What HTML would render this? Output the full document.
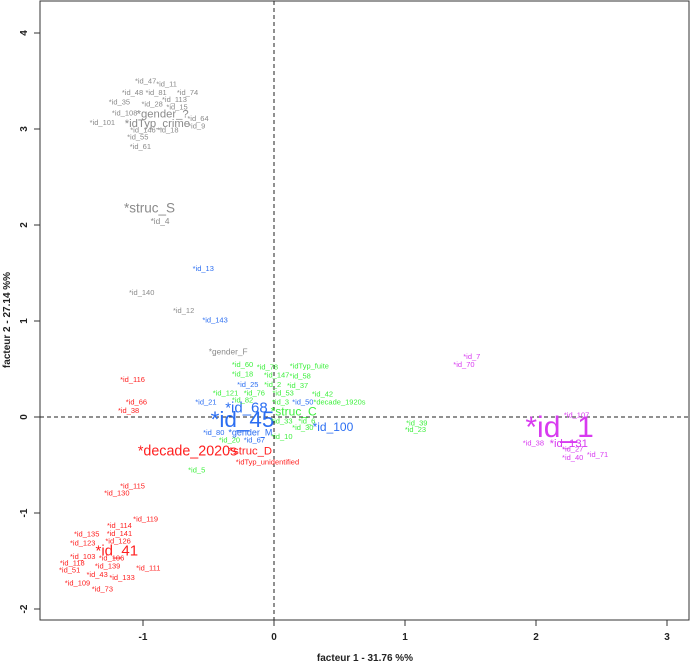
<!DOCTYPE html>
<html><head><meta charset="utf-8">
<style>
html,body{margin:0;padding:0;background:#fff;}
svg{display:block;font-family:"Liberation Sans",sans-serif;}
</style></head>
<body>
<svg id="chart" width="690" height="663" viewBox="0 0 690 663" xmlns="http://www.w3.org/2000/svg">
<rect x="40" y="1" width="649" height="619" fill="none" stroke="#333" stroke-width="1"/>
<g id="axes"></g>
<g id="marks"></g>
<text x="365" y="661" text-anchor="middle" font-size="10" font-weight="bold" fill="#222">facteur  1  - 31.76 %%</text>
<text transform="translate(10,320) rotate(-90)" text-anchor="middle" font-size="10" font-weight="bold" fill="#222">facteur  2  - 27.14 %%</text>
</svg>
<script>
const labels=["id_47","id_11","id_48","id_81","id_74","id_35","id_28","id_113","id_15","id_108","gender_?","id_64","id_101","idTyp_crime","id_9","id_146","id_18","id_55","id_61","struc_S","id_4","id_140","id_12","gender_F",
"id_13","id_143","id_25","id_21","id_50","id_68","id_45","id_100","id_80","gender_M","id_67",
"id_60","id_78","idTyp_fuite","id_18","id_147","id_58","id_2","id_37","id_121","id_76","id_53","id_42","id_82","id_3","decade_1920s","struc_C","id_33","id_6","id_30","id_10","id_20","id_5","id_39","id_23",
"id_116","id_66","id_38","decade_2020s","struc_D","idTyp_unidentified","id_115","id_130","id_119","id_114","id_135","id_141","id_123","id_126","id_41","id_103","id_106","id_118","id_139","id_111","id_51","id_43","id_133","id_109","id_73",
"id_7","id_70","id_107","id_1","id_38","id_131","id_27","id_40","id_71"];
const xs=[-0.98,-0.82,-1.08,-0.90,-0.66,-1.18,-0.93,-0.76,-0.74,-1.14,-0.85,-0.58,-1.31,-0.89,-0.59,-1.00,-0.81,-1.04,-1.02,-0.95,-0.87,-1.01,-0.69,-0.35,
-0.54,-0.45,-0.20,-0.52,0.22,-0.21,-0.24,0.45,-0.46,-0.18,-0.15,
-0.24,-0.05,0.27,-0.24,0.02,0.20,-0.01,0.18,-0.37,-0.15,0.07,0.37,-0.24,0.05,0.50,0.15,0.06,0.25,0.22,0.06,-0.34,-0.59,1.09,1.08,
-1.08,-1.05,-1.11,-0.66,-0.18,-0.05,-1.08,-1.20,-0.98,-1.18,-1.43,-1.18,-1.46,-1.19,-1.20,-1.46,-1.24,-1.54,-1.27,-0.96,-1.56,-1.35,-1.16,-1.50,-1.31,
1.51,1.45,2.31,2.18,1.98,2.25,2.28,2.28,2.47];
const ys=[3.50,3.47,3.38,3.38,3.38,3.28,3.26,3.31,3.23,3.17,3.16,3.11,3.07,3.06,3.03,2.99,2.99,2.92,2.82,2.18,2.04,1.30,1.11,0.68,
1.55,1.01,0.34,0.16,0.16,0.10,-0.02,-0.10,-0.16,-0.16,-0.24,
0.55,0.52,0.53,0.45,0.44,0.43,0.34,0.33,0.25,0.25,0.25,0.24,0.18,0.16,0.16,0.06,-0.04,-0.04,-0.11,-0.20,-0.24,-0.55,-0.06,-0.13,
0.39,0.16,0.07,-0.35,-0.35,-0.47,-0.72,-0.79,-1.06,-1.13,-1.22,-1.21,-1.31,-1.29,-1.39,-1.45,-1.47,-1.52,-1.55,-1.57,-1.59,-1.64,-1.67,-1.73,-1.79,
0.63,0.55,0.02,-0.10,-0.27,-0.27,-0.33,-0.42,-0.39];
const groups=["g","g","g","g","g","g","g","g","g","g","g","g","g","g","g","g","g","g","g","g","g","g","g","g",
"b","b","b","b","b","b","b","b","b","b","b",
"v","v","v","v","v","v","v","v","v","v","v","v","v","v","v","v","v","v","v","v","v","v","v","v",
"r","r","r","r","r","r","r","r","r","r","r","r","r","r","r","r","r","r","r","r","r","r","r","r","r",
"m","m","m","m","m","m","m","m","m"];
const weights=[1,1,1,1,1,1,1,1,1,1,1.5,1,1,1.5,1,1,1,1,1,1.8,1.1,1,1,1.1,
1,1,1,1,1,2,3,1.6,1,1.2,1,
1,1,1,1,1,1,1,1,1,1,1,1,1,1,1,1.6,1,1,1,1,1,1,1,1,
1,1,1,1.9,1.5,1,1,1,1,1,1,1,1,1,2,1,1,1,1,1,1,1,1,1,1,
1,1,1,4,1,1.5,1,1,1];
const xTicks=[-1,0,1,2,3];
const yTicks=[-2,-1,0,1,2,3,4];
const colors={g:"#8a8a8a",b:"#2b6ef2",v:"#3ef03e",r:"#ff1f1f",m:"#d83af0"};
const X=v=>274+v*131, Y=v=>417-v*96;
const NS="http://www.w3.org/2000/svg";
const ax=document.getElementById('axes'), mk=document.getElementById('marks');
function mkEl(t,a,p){const e=document.createElementNS(NS,t);for(const k in a)e.setAttribute(k,a[k]);p.appendChild(e);return e;}
xTicks.forEach(t=>{
  const l=mkEl('line',{x1:X(t),x2:X(t),y1:620,y2:626,stroke:'#333'},ax);
  
  
  const tx=mkEl('text',{x:X(t),y:640,'text-anchor':'middle','font-size':'10','font-weight':'bold',fill:'#222'},ax);
  tx.textContent=String(t);
  
  
});
yTicks.forEach(t=>{
  const l=mkEl('line',{x1:34,x2:40,y1:Y(t),y2:Y(t),stroke:'#333'},ax);
  
  
  const tx=mkEl('text',{transform:`translate(27,${Y(t)}) rotate(-90)`,'text-anchor':'middle','font-size':'10','font-weight':'bold',fill:'#222'},ax);
  tx.textContent=String(t);
  
  
});
const h=mkEl('line',{x1:40,x2:689,y1:Y(0),y2:Y(0),stroke:'#222','stroke-dasharray':'4,3'},ax);


const v=mkEl('line',{x1:X(0),x2:X(0),y1:1,y2:620,stroke:'#222','stroke-dasharray':'4,3'},ax);


labels.forEach((lab,i)=>{
  const fs=7.5*weights[i];
  const t=mkEl('text',{x:X(xs[i]),y:Y(ys[i])+fs*0.35,'text-anchor':'middle','font-size':fs.toFixed(1),fill:colors[groups[i]]},mk);
  t.textContent='*'+lab;
  
  
});
</script>
</body></html>
